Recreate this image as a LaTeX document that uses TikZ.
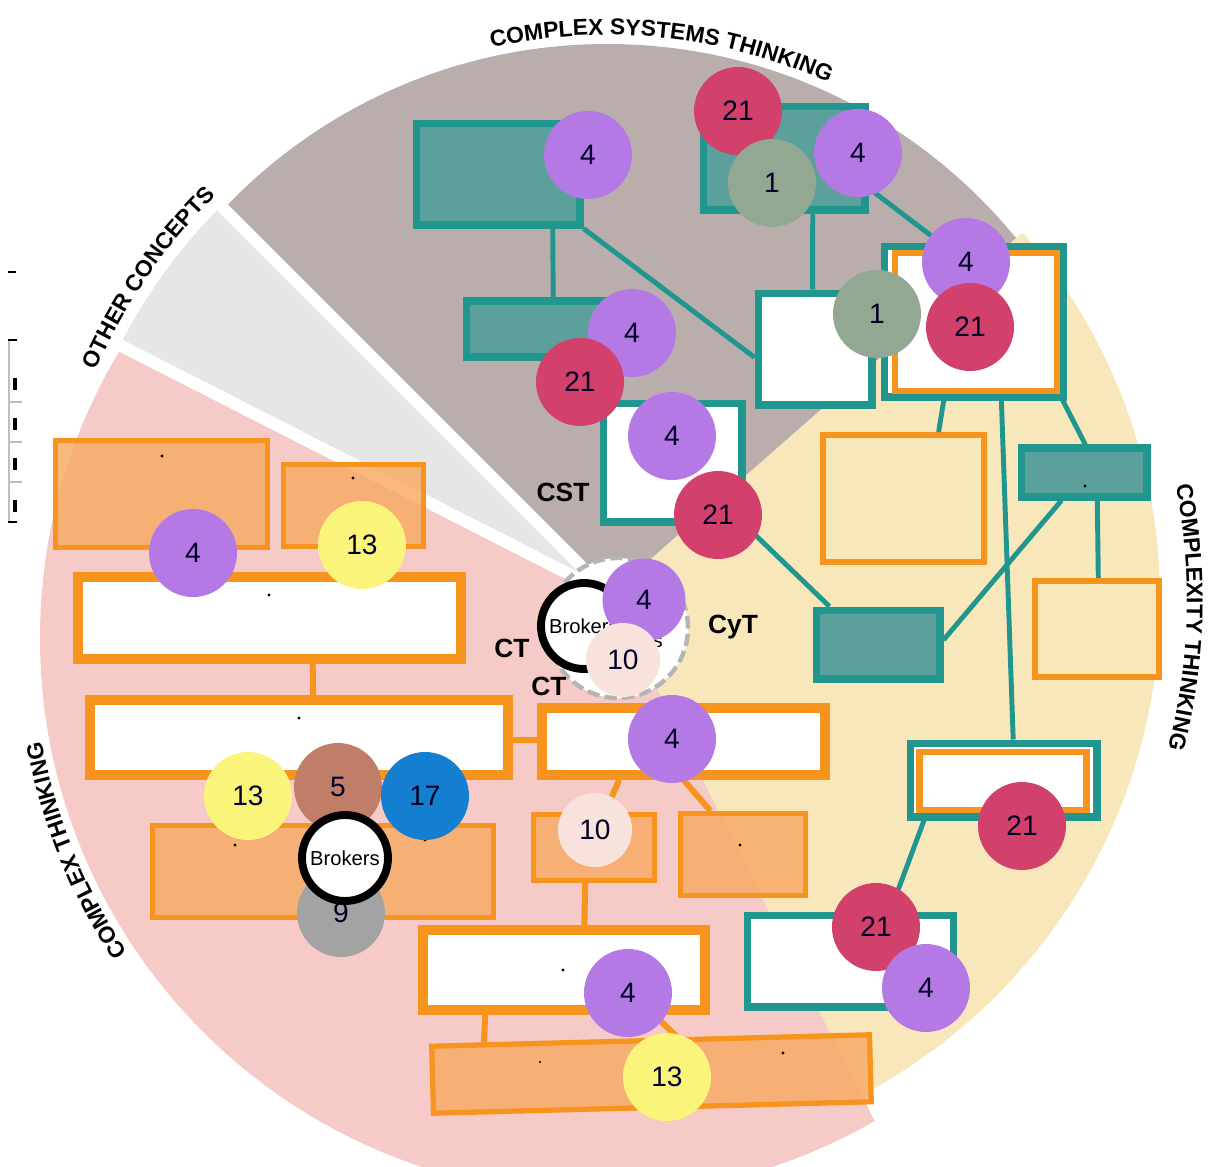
\documentclass[tikz,border=0pt]{standalone}
\usepackage{fontspec}
\setmainfont{Liberation Sans}
\usepackage{tikz}
\usetikzlibrary{calc,decorations.text}

\definecolor{CsGrey}{RGB}{186,174,172}
\definecolor{OcGrey}{RGB}{230,230,230}
\definecolor{CtPink}{RGB}{246,202,198}
\definecolor{CyYel}{RGB}{248,231,187}
\definecolor{TealLn}{RGB}{33,150,143}
\definecolor{TealFl}{RGB}{92,160,155}
\definecolor{OrLn}{RGB}{247,148,29}
\definecolor{OrFl}{RGB}{247,172,104}
\definecolor{Pur}{RGB}{181,121,229}
\definecolor{Crim}{RGB}{210,64,108}
\definecolor{Sage}{RGB}{146,168,146}
\definecolor{Lemon}{RGB}{250,245,122}
\definecolor{Clay}{RGB}{192,126,105}
\definecolor{Azure}{RGB}{20,127,208}
\definecolor{Ash}{RGB}{163,163,163}
\definecolor{Blush}{RGB}{247,227,220}

\newcommand\arclbl{\bfseries\fontsize{13}{15}\selectfont}

\begin{document}
\begin{tikzpicture}[x=0.02cm,y=-0.02cm,
			tb/.style={draw=TealLn,line width=4pt,fill=white,inner sep=0pt},
			tbf/.style={tb,fill=TealFl},
			ob/.style={draw=OrLn,line width=5.5pt,fill=white,inner sep=0pt},
			obf/.style={draw=OrLn,line width=3pt,fill=OrFl,fill opacity=0.85,inner sep=0pt},
			obe/.style={draw=OrLn,line width=3.5pt,inner sep=0pt},
			tln/.style={draw=TealLn,line width=2.8pt},
			oln/.style={draw=OrLn,line width=3.4pt},
			sgap/.style={draw=white,line width=0.24cm},
			cn/.style={circle,inner sep=0pt,minimum size=1.76cm,font=\fontsize{16}{18}\selectfont,text=black!85!blue},
			n1/.style={cn,fill=Sage},
			n4/.style={cn,fill=Pur},
			n5/.style={cn,fill=Clay},
			n9/.style={cn,fill=Ash},
			n10/.style={cn,fill=Blush,minimum size=1.48cm},
			n13/.style={cn,fill=Lemon},
			n17/.style={cn,fill=Azure},
			n21/.style={cn,fill=Crim},
			brk/.style={circle,draw=black,line width=4.5pt,fill=white,inner sep=0pt,minimum size=1.72cm,font=\fontsize{11.5}{13}\selectfont},
			brkd/.style={circle,draw=Ash!80,dash pattern=on 7pt off 3pt,line width=2.5pt,fill=white,inner sep=0pt,minimum size=2.8cm},
			tag/.style={font=\bfseries\fontsize{15}{17}\selectfont},
			txdot/.style={fill=black}]
			\useasboundingbox (0,0) rectangle (1215,1167);
			\coordinate (ctr) at (610,595);
			\begin{scope}
				\clip (ctr) -- plot[domain=225:318.7,samples=30] ({610+900*cos(\x)},{595+900*sin(\x)}) -- cycle;
				\fill[CsGrey] (607,572) circle (528);
			\end{scope}
			\begin{scope}
				\clip (ctr) -- plot[domain=207:225,samples=10] ({610+900*cos(\x)},{595+900*sin(\x)}) -- cycle;
				\fill[OcGrey] (610,595) circle (550);
			\end{scope}
			\begin{scope}
				\clip (ctr) -- plot[domain=63.3:207,samples=40] ({610+900*cos(\x)},{595+900*sin(\x)}) -- cycle;
				\fill[CtPink] (597,638) circle (557);
			\end{scope}
			\begin{scope}
				\clip (ctr) -- plot[domain=-41.3:63.3,samples=40] ({610+900*cos(\x)},{595+900*sin(\x)}) -- cycle;
				\fill[CyYel] (600,600) circle (560);
			\end{scope}
			\draw[sgap] (ctr) -- ++({620*cos(207)},{620*sin(207)});
			\draw[sgap] (ctr) -- ++({620*cos(225)},{620*sin(225)});

			\draw[line width=1.2pt] (8,272) -- (16,272);
			\draw[black!25,line width=0.8pt] (9,340) -- (9,522);
			\draw[black!25,line width=0.8pt] (9,402) -- (22,402) (9,442) -- (22,442) (9,482) -- (22,482);
			\draw[line width=1.2pt] (8,340) -- (17,340) (8,522) -- (17,522);
			\draw[line width=2pt] (15,378) -- (15,390) (15,418) -- (15,430) (15,458) -- (15,470) (15,500) -- (15,512);

			\node[tbf,minimum width=3.28cm,minimum height=2.04cm] (csA) at (498,174) {};
			\node[tbf,minimum width=3.24cm,minimum height=2.08cm] (csB) at (784,158) {};
			\node[tbf,minimum width=3.22cm,minimum height=1.12cm] (csC) at (546.5,329) {};
			\node[tb,minimum width=2.78cm,minimum height=2.38cm] (csD) at (672.5,462.5) {};
			\node[tb,minimum width=2.28cm,minimum height=2.24cm] (csE) at (815,349) {};
			\node[tb,minimum width=3.58cm,minimum height=3.02cm] (csF) at (973.5,321.5) {};
			\node[obe,minimum width=3.24cm,minimum height=2.76cm] (csFi) at (976,322) {};

			\node[obe,minimum width=3.22cm,minimum height=2.54cm] (cyG) at (903.5,498.5) {};
			\node[tbf,minimum width=2.52cm,minimum height=0.98cm] (cyH) at (1084,472.5) {};
			\node[obe,minimum width=2.48cm,minimum height=1.92cm] (cyI) at (1097,629) {};
			\node[tbf,minimum width=2.48cm,minimum height=1.38cm] (cyJ) at (878,644.5) {};
			\node[tb,minimum width=3.74cm,minimum height=1.48cm] (cyK) at (1003.5,780) {};
			\node[obe,minimum width=3.34cm,minimum height=1.16cm] (cyKi) at (1003,781) {};
			\node[tb,minimum width=4.14cm,minimum height=1.84cm] (cyL) at (850.5,961) {};

			\node[obf,minimum width=4.24cm,minimum height=2.14cm] (ctM) at (161.5,494) {};
			\node[obf,minimum width=2.80cm,minimum height=1.64cm] (ctN) at (353.5,505.5) {};
			\node[ob,minimum width=7.66cm,minimum height=1.64cm] (ctO) at (269.5,618) {};
			\node[ob,minimum width=8.36cm,minimum height=1.50cm] (ctP) at (299,737.5) {};
			\node[ob,minimum width=5.66cm,minimum height=1.34cm] (ctQ) at (683.5,741.5) {};
			\node[obf,minimum width=6.82cm,minimum height=1.84cm] (ctR) at (323,871.5) {};
			\node[obf,minimum width=2.42cm,minimum height=1.32cm] (ctS) at (594,847.5) {};
			\node[obf,minimum width=2.50cm,minimum height=1.64cm] (ctT) at (743,854.5) {};
			\node[ob,minimum width=5.64cm,minimum height=1.60cm] (ctU) at (564,970) {};
			\node[obf,minimum width=8.76cm,minimum height=1.34cm,rotate=1.5] (ctV) at (651.5,1074) {};

			\draw[tln] ($(csA.south west)!.82!(csA.south east)$) -- ($(csC.north west)!.54!(csC.north east)$);
			\draw[tln] (csA.south east) -- ($(csE.north west)!.57!(csE.south west)$);
			\draw[tln] ($(csB.south west)!.67!(csB.south east)$) -- ($(csE.north west)!.48!(csE.north east)$);
			\draw[tln] ($(csB.north east)!.77!(csB.south east)$) -- ($(csF.north west)!.32!(csF.north east)$);
			\draw[tln] ($(csF.south west)!.34!(csF.south east)$) -- ($(cyG.north west)!.71!(cyG.north east)$);
			\draw[tln] ($(csF.south west)!.65!(csF.south east)$) -- ($(cyK.north west)!.55!(cyK.north east)$);
			\draw[tln] ($(csF.south west)!.98!(csF.south east)$) -- ($(cyH.north west)!.51!(cyH.north east)$);
			\draw[tln] ($(cyH.south west)!.6!(cyH.south east)$) -- ($(cyI.north west)!.51!(cyI.north east)$);
			\draw[tln] ($(cyH.south west)!.33!(cyH.south east)$) -- ($(cyJ.north east)!.44!(cyJ.south east)$);
			\draw[tln] (csD.south east) -- ($(cyJ.north west)!.13!(cyJ.north east)$);
			\draw[tln] ($(cyK.south west)!.09!(cyK.south east)$) -- ($(cyL.north west)!.685!(cyL.north east)$);

			\draw[oln] ($(ctO.south west)!.61!(ctO.south east)$) -- ($(ctP.north west)!.533!(ctP.north east)$);
			\draw[oln] ($(ctP.north east)!.53!(ctP.south east)$) -- ($(ctQ.north west)!.48!(ctQ.south west)$);
			\draw[oln] ($(ctQ.south west)!.28!(ctQ.south east)$) -- ($(ctS.north west)!.59!(ctS.north east)$);
			\draw[oln] ($(ctQ.south west)!.5!(ctQ.south east)$) -- ($(ctT.north west)!.25!(ctT.north east)$);
			\draw[oln] ($(ctS.south west)!.43!(ctS.south east)$) -- ($(ctU.north west)!.57!(ctU.north east)$);
			\draw[oln] ($(ctU.south west)!.23!(ctU.south east)$) -- ($(ctV.north west)!.124!(ctV.north east)$);
			\draw[oln] ($(ctU.south west)!.81!(ctU.south east)$) -- ($(ctV.north west)!.56!(ctV.north east)$);

			\fill[txdot] (162,456) circle (1.6);
			\fill[txdot] (353,478) circle (1.6);
			\fill[txdot] (269,595) circle (1.6);
			\fill[txdot] (299,718) circle (1.6);
			\fill[txdot] (235,845) circle (1.6);
			\fill[txdot] (425,840) circle (1.6);
			\fill[txdot] (740,845) circle (1.6);
			\fill[txdot] (563,970) circle (1.6);
			\fill[txdot] (540,1062) circle (1.2);
			\fill[txdot] (783,1053) circle (1.6);
			\fill[txdot] (1085,486) circle (1.6);

			\node[n4] (csA4) at (588,155) {4};
			\node[n21] (csB21) at (738,111) {21};
			\node[n1] (csB1) at (772,183) {1};
			\node[n4] (csB4) at (858,153) {4};
			\node[n4] (csC4) at (632,333) {4};
			\node[n21] (csC21) at (580,382) {21};
			\node[n4] (csD4) at (672,436) {4};
			\node[n21] (csD21) at (718,515) {21};
			\node[n1] (csE1) at (877,314) {1};
			\node[n4] (csF4) at (966,262) {4};
			\node[n21] (csF21) at (970,327) {21};

			\node[n21] (cyK21) at (1022,826) {21};
			\node[n21] (cyL21) at (876,927) {21};
			\node[n4] (cyL4) at (926,988) {4};

			\node[n4] (ctM4) at (193,553) {4};
			\node[n13] (ctN13) at (362,545) {13};
			\node[n4] (ctQ4) at (672,739) {4};
			\node[n13] (ctR13) at (248,796) {13};
			\node[n5] (ctR5) at (338,787) {5};
			\node[n17] (ctR17) at (425,796) {17};
			\node[n9] (ctR9) at (341,913) {9};
			\node[brk] (ctRbrk) at (345,858) {Brokers};
			\node[n10] (ctS10) at (595,830) {10};
			\node[n4] (ctU4) at (628,993) {4};
			\node[n13] (ctV13) at (667,1077) {13};

			\node[brkd] (cyBrk) at (618,628) {};
			\node[font=\fontsize{11.5}{13}\selectfont] (cyBrkT) at (628,640) {Brokers};
			\node[brk] (ctBrk) at (584,626) {Brokers};
			\node[n4,minimum size=1.66cm] (mid4) at (644,600) {4};
			\node[n10] (mid10) at (623,660) {10};

			\node[tag] (lblCST) at (563,492) {CST};
			\node[tag] (lblCT) at (512,648) {CT};
			\node[tag] (lblCTb) at (549,686) {CT};
			\node[tag] (lblCyT) at (733,627) {CyT};

			\path[decorate,decoration={text along path,text align=center,text={|\arclbl|COMPLEX SYSTEMS THINKING}}]
				plot[domain=246:306,samples=61] ({607+537*cos(\x)},{572+537*sin(\x)});
			\path[decorate,decoration={text along path,text align=center,text={|\arclbl|OTHER CONCEPTS}}]
				plot[domain=192:237,samples=46] ({610+561*cos(\x)},{595+561*sin(\x)});
			\path[decorate,decoration={text along path,text align=center,text={|\arclbl|COMPLEX THINKING}}]
				plot[domain=135:180.6,samples=46] ({597+565*cos(\x)},{638+565*sin(\x)});
			\path[decorate,decoration={text along path,text align=center,text={|\arclbl|COMPLEXITY THINKING}}]
				plot[domain=-25:28.4,samples=54] ({600+587*cos(\x)},{600+587*sin(\x)});
		\end{tikzpicture}
\end{document}
